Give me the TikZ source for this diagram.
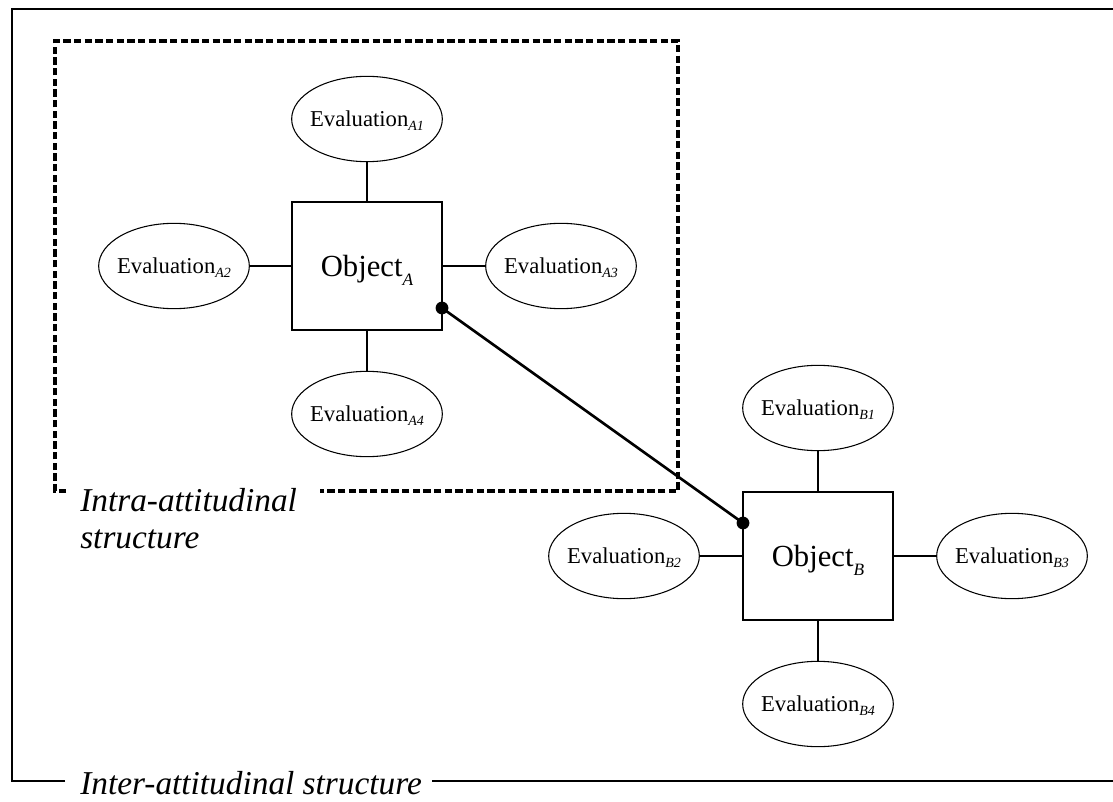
\documentclass[tikz,border=0pt]{standalone}
\usepackage{fontspec}
\setmainfont{Liberation Serif}
\usetikzlibrary{shapes.geometric,calc}
\newcommand\evsub[1]{\raisebox{-3pt}{\fontsize{10.5}{11}\selectfont\itshape #1}}
\newcommand\objsub[1]{\raisebox{-7pt}{\fontsize{13}{13}\selectfont\itshape #1}}
\begin{document}
\begin{tikzpicture}[x=0.75pt,y=-0.75pt,
  evalnode/.style={ellipse,draw,line width=0.8pt,minimum width=113pt,minimum height=64pt,
    inner xsep=-3pt,inner ysep=0pt,font=\fontsize{17}{20}\selectfont,text height=11.2pt,text depth=0pt},
  objnode/.style={rectangle,draw,line width=0.8pt,minimum width=112.5pt,minimum height=96pt,
    inner sep=0pt,font=\fontsize{23}{27}\selectfont,text height=15.2pt,text depth=0pt},
  link/.style={line width=0.8pt},
  bond/.style={line width=2pt},
  frameline/.style={line width=1.3pt},
  groupline/.style={line width=2.6pt,dash pattern=on 5.5pt off 2.5pt},
  caption/.style={font=\fontsize{25}{28}\selectfont\itshape,inner sep=0pt,anchor=base west}
]
\useasboundingbox (0,0) rectangle (1113,802);

% outer frame, open where its caption sits
\node[caption] (inter) at (80,794) {Inter-attitudinal structure};
\coordinate (fbl) at (12,781);
\coordinate (fbr) at (1113,781);
\draw[frameline] (65,781) -- (fbl) -- (12,9) -- (1113,9);
\draw[frameline] ($(fbr -| inter.east)+(10,0)$) -- (fbr);

% dashed group around object A
\draw[groupline] (66,491) -- (55,491) -- (55,41) -- (678,41) -- (678,491) -- (320,491);
\node[caption] (intra1) at (80,511) {Intra-attitudinal};
\node[caption] (intra2) at (80,548) {structure};

% object A and its evaluations
\node[objnode] (oa) at (367,266) {Object\objsub{A}};
\node[evalnode] (a1) at (367,119) {Evaluation\evsub{A1}};
\node[evalnode] (a2) at (174,266) {Evaluation\evsub{A2}};
\node[evalnode] (a3) at (561,266) {Evaluation\evsub{A3}};
\node[evalnode] (a4) at (367,414) {Evaluation\evsub{A4}};
\draw[link] (a1) -- (oa);
\draw[link] (a2) -- (oa);
\draw[link] (a3) -- (oa);
\draw[link] (a4) -- (oa);

% object B and its evaluations
\node[objnode] (ob) at (818,556) {Object\objsub{B}};
\node[evalnode] (b1) at (818,408) {Evaluation\evsub{B1}};
\node[evalnode] (b2) at (624,556) {Evaluation\evsub{B2}};
\node[evalnode] (b3) at (1012,556) {Evaluation\evsub{B3}};
\node[evalnode] (b4) at (818,704) {Evaluation\evsub{B4}};
\draw[link] (b1) -- (ob);
\draw[link] (b2) -- (ob);
\draw[link] (b3) -- (ob);
\draw[link] (b4) -- (ob);

% link between the two attitude objects
\coordinate (ja) at (442,308);
\coordinate (jb) at (743,523);
\draw[bond] (ja) -- (jb);
\fill (ja) circle (4.8pt);
\fill (jb) circle (4.8pt);
\end{tikzpicture}
\end{document}
